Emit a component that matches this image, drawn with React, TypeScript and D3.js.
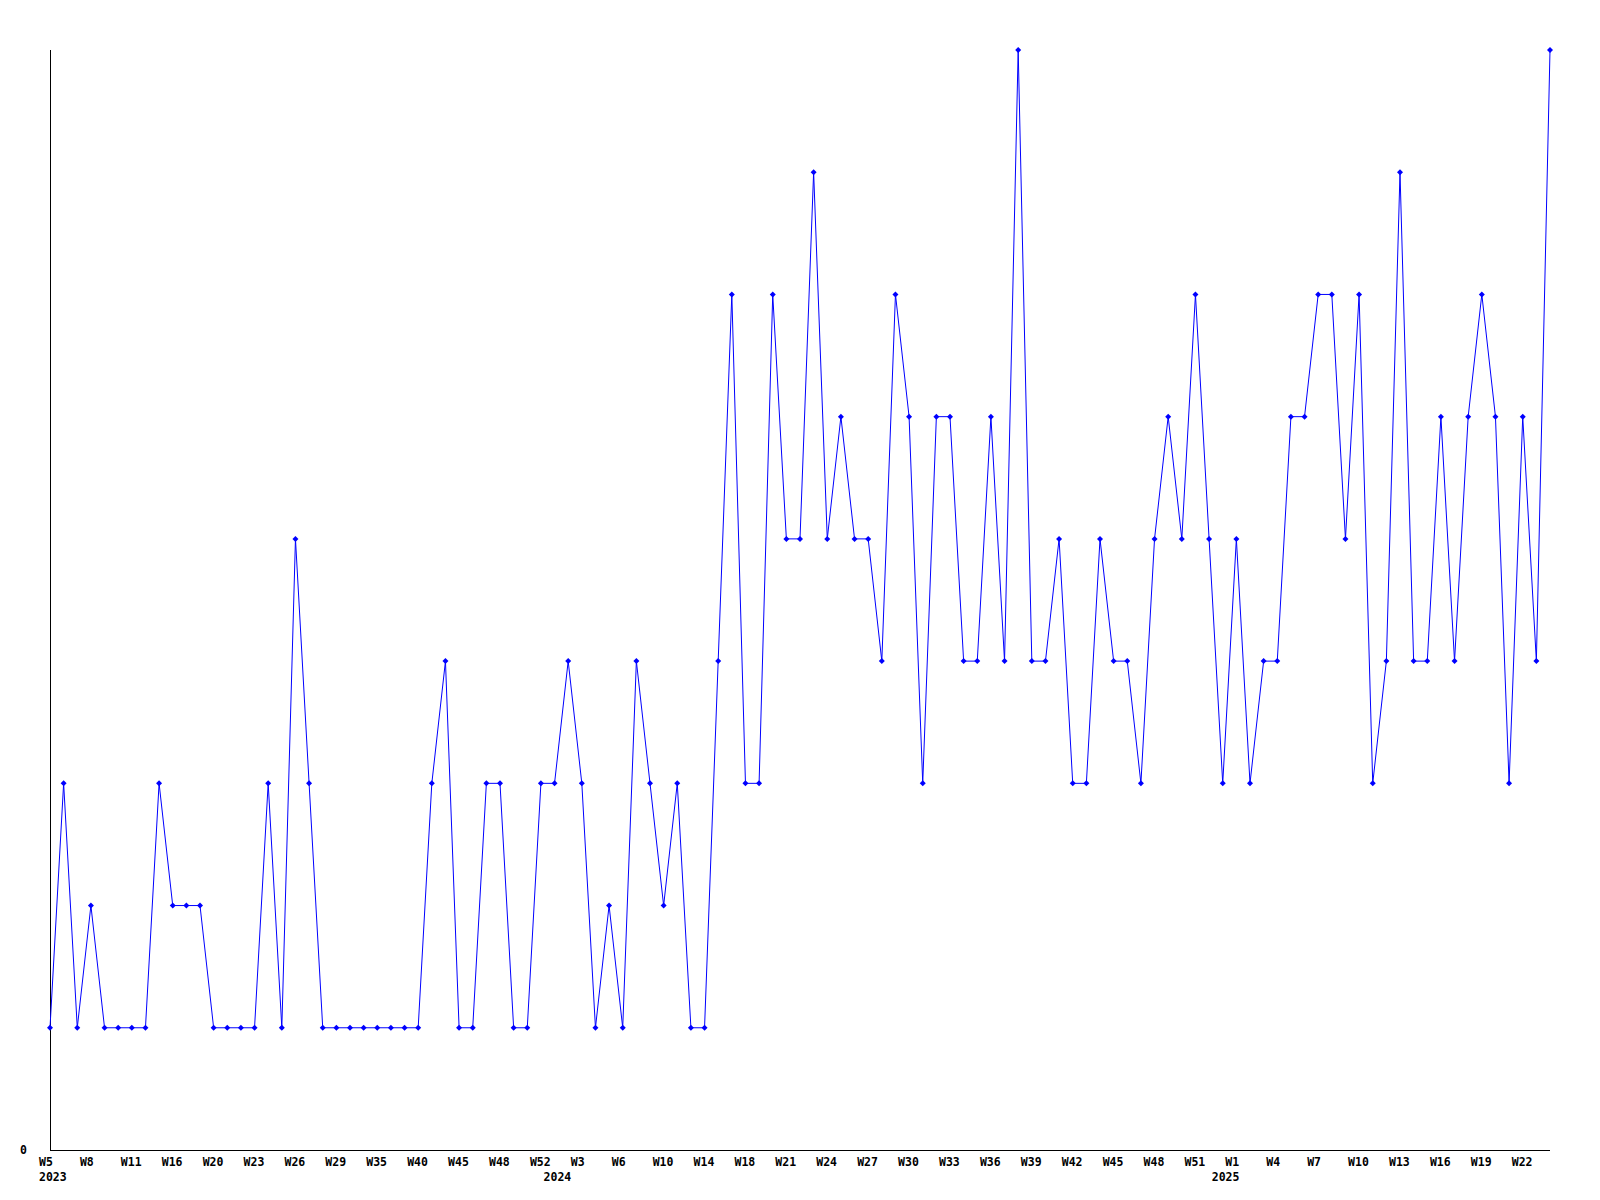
import React from "react";
import * as d3 from "d3";

const weeks: string[] = [
  "2023-W5","2023-W6","2023-W7","2023-W8","2023-W9","2023-W10","2023-W11","2023-W13","2023-W15","2023-W16",
  "2023-W17","2023-W19","2023-W20","2023-W21","2023-W22","2023-W23","2023-W24","2023-W25","2023-W26","2023-W27",
  "2023-W28","2023-W29","2023-W31","2023-W33","2023-W35","2023-W37","2023-W38","2023-W40","2023-W42","2023-W43",
  "2023-W45","2023-W46","2023-W47","2023-W48","2023-W50","2023-W51","2023-W52",
  "2024-W1","2024-W2","2024-W3","2024-W4","2024-W5","2024-W6","2024-W8","2024-W9","2024-W10",
  "2024-W12","2024-W13","2024-W14","2024-W16","2024-W17","2024-W18","2024-W19","2024-W20","2024-W21","2024-W22",
  "2024-W23","2024-W24","2024-W25","2024-W26","2024-W27","2024-W28","2024-W29","2024-W30","2024-W31","2024-W32",
  "2024-W33","2024-W34","2024-W35","2024-W36","2024-W37","2024-W38","2024-W39","2024-W40","2024-W41","2024-W42",
  "2024-W43","2024-W44","2024-W45","2024-W46","2024-W47","2024-W48","2024-W49","2024-W50","2024-W51","2024-W52",
  "2025-W0","2025-W1","2025-W2","2025-W3","2025-W4","2025-W5","2025-W6","2025-W7","2025-W8","2025-W9",
  "2025-W10","2025-W11","2025-W12","2025-W13","2025-W14","2025-W15","2025-W16","2025-W17","2025-W18","2025-W19",
  "2025-W20","2025-W21","2025-W22","2025-W23","2025-W24",
];

const counts: number[] = [
  1,3,1,2,1,1,1,1,3,2,
  2,2,1,1,1,1,3,1,5,3,
  1,1,1,1,1,1,1,1,3,4,
  1,1,3,3,1,1,3,3,4,3,
  1,2,1,4,3,2,3,1,1,4,
  7,3,3,7,5,5,8,5,6,5,
  5,4,7,6,3,6,6,4,4,6,
  4,9,4,4,5,3,3,5,4,4,
  3,5,6,5,7,5,3,5,3,4,
  4,6,6,7,7,5,7,3,4,8,
  4,4,6,4,6,7,6,3,6,4,
  9,
];

const yTickLabels: string[] = ["0"];
const labelEvery = 3;

const W = 1600;
const H = 1200;
const left = 50;
const right = 1550;
const top = 50;
const bottom = 1150;
const yMax = 9;

export default function App() {
  const x = d3.scalePoint<string>().domain(weeks).range([left, right]);
  const y = d3.scaleLinear().domain([0, yMax]).range([bottom, top]);
  const line = d3
    .line<number>()
    .x((_, i) => x(weeks[i]) as number)
    .y((d) => y(d));

  const font = "'DejaVu Sans Mono', 'Liberation Mono', monospace";

  // year labels at first point of each year
  const yearStarts: { year: string; idx: number }[] = [];
  weeks.forEach((w, i) => {
    const yr = w.split("-")[0];
    if (i === 0 || weeks[i - 1].split("-")[0] !== yr) yearStarts.push({ year: yr, idx: i });
  });

  const diamond = (cx: number, cy: number) =>
    `M${cx},${cy - 3}L${cx + 3},${cy}L${cx},${cy + 3}L${cx - 3},${cy}Z`;

  return (
    <div style={{ position: "absolute", left: 0, top: 0, width: W, height: H, background: "#fff" }}>
      <svg width={W} height={H} style={{ display: "block" }}>
        <rect x={0} y={0} width={W} height={H} fill="#fff" />
        {/* axes */}
        <line x1={left + 0.5} y1={top} x2={left + 0.5} y2={bottom + 0.5} stroke="#000" strokeWidth={1} />
        <line x1={left} y1={bottom + 0.5} x2={right} y2={bottom + 0.5} stroke="#000" strokeWidth={1} />
        {yTickLabels.map((t) => (
          <text
            key={t}
            x={27}
            y={y(+t) + 4}
            textAnchor="end"
            fontFamily={font}
            fontWeight="bold"
            fontSize={11.5}
            fill="#000"
          >
            {t}
          </text>
        ))}
        {weeks.map((w, i) =>
          i % labelEvery === 0 ? (
            <text
              key={w}
              x={(x(w) as number) - 11}
              y={1166}
              textAnchor="start"
              fontFamily={font}
              fontWeight="bold"
              fontSize={11.5}
              fill="#000"
            >
              {w.split("-")[1]}
            </text>
          ) : null
        )}
        {yearStarts.map((s) => (
          <text
            key={s.year}
            x={(x(weeks[s.idx]) as number) - 11}
            y={1181}
            textAnchor="start"
            fontFamily={font}
            fontWeight="bold"
            fontSize={11.5}
            fill="#000"
          >
            {s.year}
          </text>
        ))}
        <path d={line(counts) || ""} fill="none" stroke="#0000ff" strokeWidth={1} />
        {counts.map((c, i) => (
          <path key={i} d={diamond(x(weeks[i]) as number, y(c))} fill="#0000ff" />
        ))}
      </svg>
    </div>
  );
}
